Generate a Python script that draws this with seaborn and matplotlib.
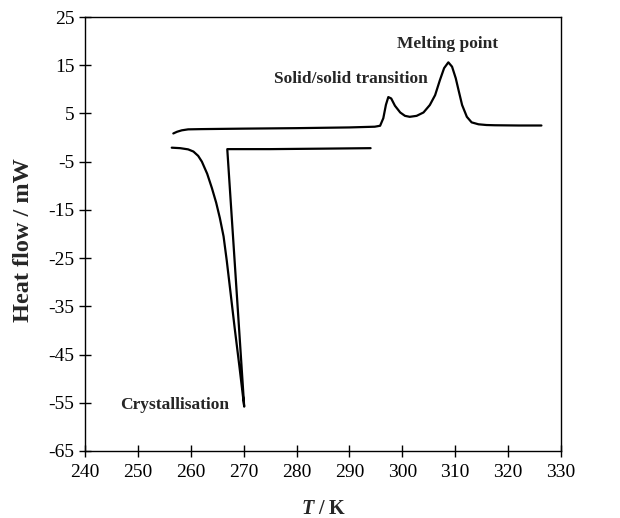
import matplotlib
matplotlib.use("Agg")
import matplotlib.pyplot as plt
import seaborn as sns
import pandas as pd

# Heating curve (T in K, heat flow in mW)
heat_T = [256.7, 257.4, 258.3, 259.5, 262, 270, 280, 290, 294.8, 295.8, 296.4, 296.9,
          297.35, 297.9, 298.6, 299.6, 300.5, 301.4, 302.7, 304.0, 305.2, 306.2,
          307.1, 307.9, 308.7, 309.4, 310.1, 310.7, 311.3, 312.2, 313.1, 314.4,
          315.9, 317.5, 322, 326.3]
heat_Q = [0.85, 1.2, 1.5, 1.7, 1.75, 1.85, 1.95, 2.1, 2.25, 2.45, 4.0, 6.8,
          8.4, 8.1, 6.6, 5.2, 4.5, 4.3, 4.5, 5.2, 6.75, 8.8,
          11.9, 14.4, 15.6, 14.7, 12.3, 9.5, 6.75, 4.3, 3.15, 2.75,
          2.6, 2.55, 2.5, 2.5]

# Cooling curve (drawn in order)
cool_T = [256.4, 258.0, 259.5, 260.5, 261.4, 262.1, 263.1, 264.0, 264.8, 265.5,
          266.2, 266.8, 267.5, 268.3, 269.2, 270.1, 266.9, 275, 285, 294.0]
cool_Q = [-2.1, -2.2, -2.45, -2.9, -3.8, -5.0, -7.5, -10.5, -13.5, -16.7,
          -20.5, -25.5, -32.0, -39.5, -47.5, -55.8, -2.4, -2.4, -2.3, -2.2]

x_ticks = [240, 250, 260, 270, 280, 290, 300, 310, 320, 330]
y_ticks = [-65, -55, -45, -35, -25, -15, -5, 5, 15, 25]

labels = ["Melting point", "Solid/solid transition", "Crystallisation"]
label_T = [308.6, 290.3, 257.0]
label_Q = [19.3, 12.2, -55.5]

sns.set_style("ticks")
plt.rcParams['font.family'] = ['Liberation Serif', 'DejaVu Serif']
plt.rcParams['mathtext.fontset'] = 'custom'
plt.rcParams['mathtext.rm'] = 'Liberation Serif'
plt.rcParams['mathtext.it'] = 'Liberation Serif:italic'
plt.rcParams['mathtext.bf'] = 'Liberation Serif:bold'
plt.rcParams['mathtext.bfit'] = 'Liberation Serif:italic:bold'

fig = plt.figure(figsize=(6.2, 5.18), dpi=100)
ax = fig.add_axes([85 / 620, 1 - 451 / 518, (561 - 85) / 620, (451 - 17) / 518])

heat = pd.DataFrame({"T": heat_T, "Q": heat_Q})
cool = pd.DataFrame({"T": cool_T, "Q": cool_Q})
sns.lineplot(data=heat, x="T", y="Q", sort=False, estimator=None, color="black", lw=1.6, ax=ax)
sns.lineplot(data=cool, x="T", y="Q", sort=False, estimator=None, color="black", lw=1.6, ax=ax)

ax.set_xlim(240, 330)
ax.set_ylim(-65, 25)
ax.set_xticks(x_ticks)
ax.set_yticks(y_ticks)
ax.set_xticklabels([str(v) for v in x_ticks], fontsize=14)
ax.set_yticklabels([str(v) for v in y_ticks], fontsize=14)
ax.tick_params(direction="inout", length=9, width=1, colors="black", pad=3)
ax.tick_params(axis="x", pad=5)
for s in ax.spines.values():
    s.set_linewidth(1.0)
    s.set_color("black")

ax.set_xlabel(r"$\mathbfit{T}$ / K", fontsize=14.5, fontweight="bold")
ax.xaxis.set_label_coords(0.502, -0.11)
ax.set_ylabel("Heat flow / mW", fontsize=17.5, fontweight="bold")
ax.yaxis.set_label_coords(-0.107, 0.486)

for t, x, y in zip(labels, label_T, label_Q):
    ax.text(x, y, t, ha="center", va="center", fontsize=12.5, fontweight="bold")

fig.savefig("out.png", dpi=100)
